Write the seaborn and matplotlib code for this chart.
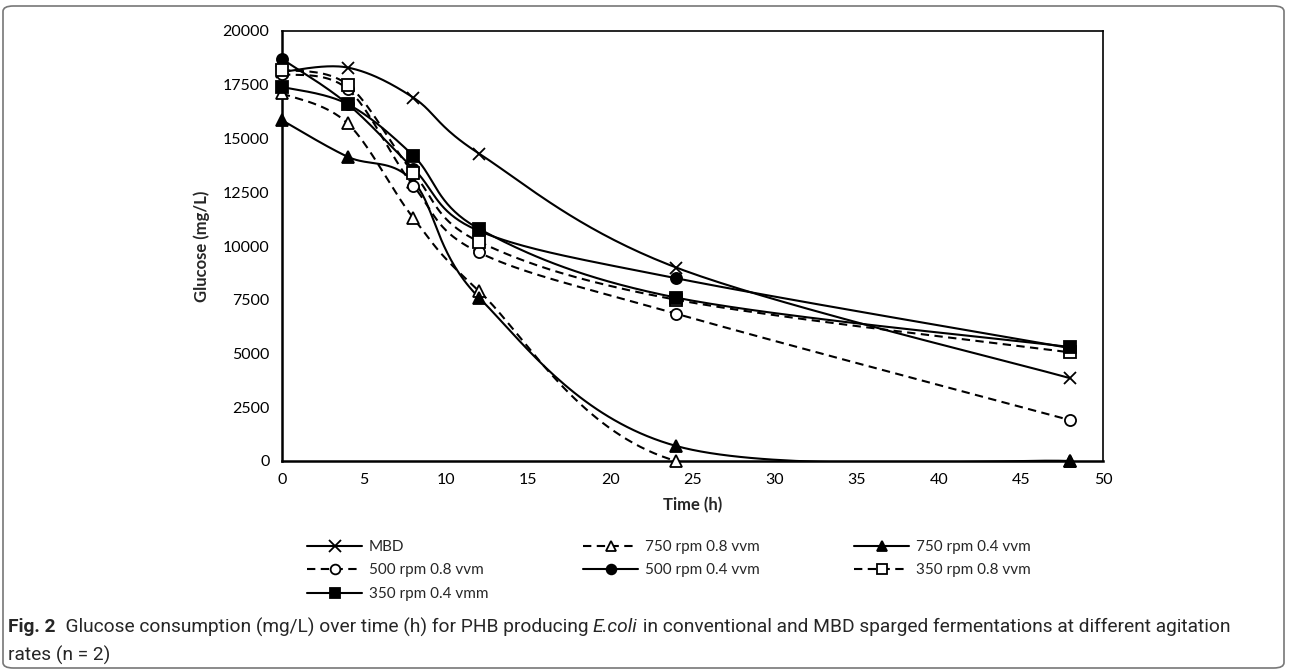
import numpy as np
import pandas as pd
import matplotlib
matplotlib.use("Agg")
import matplotlib.pyplot as plt
import seaborn as sns
from matplotlib.lines import Line2D
from matplotlib.patches import FancyBboxPatch

# ==============================
# Data
# ==============================
time_h = [0, 4, 8, 12, 24, 48]

mbd = [18100, 18300, 16900, 14300, 9000, 3850]
rpm750_08 = [17100, 15700, 11300, 7900, 0, 0]
rpm750_04 = [15850, 14150, 13000, 7600, 700, 0]
rpm500_08 = [18000, 17300, 12800, 9700, 6850, 1900]
rpm500_04 = [18700, 16600, 13600, 10700, 8500, 5250]
rpm350_08 = [18200, 17500, 13400, 10200, 7500, 5050]
rpm350_04 = [17400, 16600, 14200, 10800, 7600, 5300]

series_labels = ["MBD", "750 rpm 0.8 vvm", "750 rpm 0.4 vvm", "500 rpm 0.8 vvm",
                 "500 rpm 0.4 vvm", "350 rpm 0.8 vvm", "350 rpm 0.4 vmm"]
series_values = [mbd, rpm750_08, rpm750_04, rpm500_08, rpm500_04, rpm350_08, rpm350_04]

y_ticks = [0, 2500, 5000, 7500, 10000, 12500, 15000, 17500, 20000]
x_ticks = [0, 5, 10, 15, 20, 25, 30, 35, 40, 45, 50]

# ==============================
# Styles
# ==============================
DASH = (0, (4, 2.6))
styles = {
    "MBD": dict(ls="-", marker="x", mfc="none", ms=9),
    "750 rpm 0.8 vvm": dict(ls=DASH, marker="^", mfc="white", ms=8),
    "750 rpm 0.4 vvm": dict(ls="-", marker="^", mfc="black", ms=8),
    "500 rpm 0.8 vvm": dict(ls=DASH, marker="o", mfc="white", ms=8),
    "500 rpm 0.4 vvm": dict(ls="-", marker="o", mfc="black", ms=8),
    "350 rpm 0.8 vvm": dict(ls=DASH, marker="s", mfc="white", ms=8),
    "350 rpm 0.4 vmm": dict(ls="-", marker="s", mfc="black", ms=8.5),
}

sns.set_style("white")
plt.rcParams["font.family"] = ["Lato", "DejaVu Sans"]


def smooth_curve(x, y, n=40):
    # Excel-style smoothed line (cubic Bezier through the points)
    p = np.column_stack([x, y]).astype(float)
    p_ext = np.vstack([p[0], p, p[-1]])
    out = []
    for i in range(len(p) - 1):
        p0, p1, p2, p3 = p_ext[i], p_ext[i + 1], p_ext[i + 2], p_ext[i + 3]
        c1 = p1 + (p2 - p0) / 6.0
        c2 = p2 - (p3 - p1) / 6.0
        t = np.linspace(0, 1, n)[:, None]
        seg = ((1 - t) ** 3) * p1 + 3 * ((1 - t) ** 2) * t * c1 + 3 * (1 - t) * t ** 2 * c2 + t ** 3 * p2
        out.append(seg if i == 0 else seg[1:])
    out = np.vstack(out)
    return out[:, 0], out[:, 1]


fig = plt.figure(figsize=(12.9, 6.71), dpi=100)
ax = fig.add_axes([282 / 1290, 1 - 461 / 671, (1103 - 282) / 1290, (461 - 31) / 671])

for label, vals in zip(series_labels, series_values):
    st = styles[label]
    xs, ys = smooth_curve(time_h, vals)
    curve = pd.DataFrame({"t": xs, "g": ys})
    sns.lineplot(data=curve, x="t", y="g", ax=ax, color="black", lw=1.5,
                 linestyle=st["ls"], sort=False, estimator=None)
    ax.plot(time_h, vals, ls="none", marker=st["marker"], ms=st["ms"],
            mfc=st["mfc"], mec="black", mew=1.3, clip_on=False, zorder=5)

ax.set_xlim(0, 50)
ax.set_ylim(0, 20000)
ax.set_xticks(x_ticks)
ax.set_yticks(y_ticks)
ax.set_xticklabels([str(v) for v in x_ticks])
ax.set_yticklabels([str(v) for v in y_ticks])
ax.tick_params(axis="both", direction="out", length=5, width=1.3, colors="black",
               labelsize=11.5, pad=4)
ax.set_xlabel("Time (h)", fontsize=12, fontweight="bold", labelpad=7)
ax.set_ylabel("Glucose (mg/L)", fontsize=12, fontweight="bold", labelpad=9)

for side in ["left", "bottom"]:
    ax.spines[side].set_linewidth(1.8)
    ax.spines[side].set_color("black")
for side in ["top", "right"]:
    ax.spines[side].set_linewidth(1.2)
    ax.spines[side].set_color("black")

# Legend (3 columns, filled row by row)
order = [0, 3, 6, 1, 4, 2, 5]
handles = []
for i in order:
    st = styles[series_labels[i]]
    handles.append(Line2D([0], [0], color="black", lw=1.5, ls=st["ls"], marker=st["marker"],
                          ms=st["ms"] - 1, mfc=st["mfc"], mec="black", mew=1.3))
fig.legend(handles, [series_labels[i] for i in order], ncol=3, frameon=False,
           loc="upper left", bbox_to_anchor=(307 / 1290, 1 - 540 / 671),
           fontsize=11, handlelength=3.6, handletextpad=0.45, columnspacing=6.2,
           labelspacing=0.62, borderpad=0, borderaxespad=0)

# Outer frame
frame = FancyBboxPatch((3 / 1290, 3 / 671), 1281 / 1290, 662 / 671,
                       boxstyle="round,pad=0,rounding_size=0.008",
                       transform=fig.transFigure, fill=False, ec="#777777", lw=1.2)
fig.patches.append(frame)

# Caption
fig.canvas.draw()
renderer = fig.canvas.get_renderer()
cap_font = ["Roboto", "DejaVu Sans"]
pieces = [("Fig. 2", "bold", "normal"),
          ("  Glucose consumption (mg/L) over time (h) for PHB producing ", "normal", "normal"),
          ("E.coli", "normal", "italic"),
          (" in conventional and MBD sparged fermentations at different agitation", "normal", "normal")]
x_px = 8
for txt, weight, style in pieces:
    t = fig.text(x_px / 1290, 1 - 627 / 671, txt, fontsize=13.8, fontweight=weight,
                 fontstyle=style, family=cap_font, va="center", ha="left")
    x_px = t.get_window_extent(renderer).x1
fig.text(8 / 1290, 1 - 655 / 671, "rates (n = 2)", fontsize=13.8, family=cap_font,
         va="center", ha="left")

fig.savefig("out.png", dpi=100)
